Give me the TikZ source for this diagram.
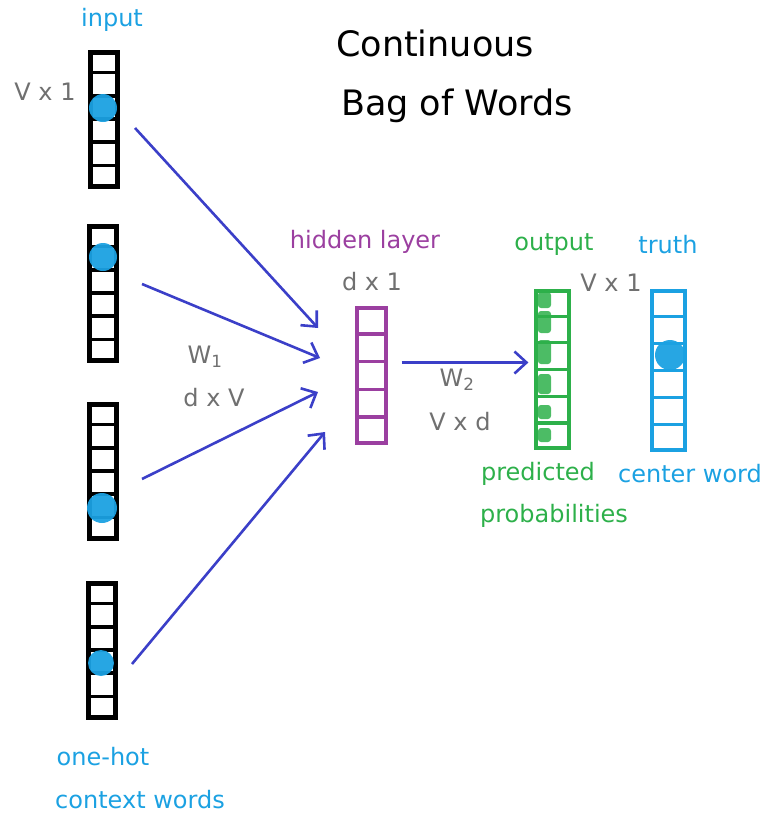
\documentclass[tikz,border=0pt]{standalone}
\usepackage{fontspec}
\setmainfont{DejaVu Sans}
\usetikzlibrary{arrows.meta,positioning,calc}
\definecolor{Ink}{HTML}{000000}
\definecolor{Sky}{HTML}{1BA1E2}
\definecolor{Plum}{HTML}{9B3FA0}
\definecolor{Leaf}{HTML}{2DB04A}
\definecolor{Slate}{HTML}{707070}
\definecolor{Flow}{HTML}{3B3FC8}

\tikzset{
  vec/.style={draw,line width=#1,minimum width=27pt,minimum height=134pt,inner sep=0pt},
  vec/.default=3.2pt,
  lbl/.style={font=\fontsize{24}{27}\selectfont},
  dims/.style={lbl,text=Slate},
  flow/.style={draw=Flow,line width=2.6pt,-{Straight Barb[length=12pt,width=22pt,line width=2.6pt]}},
  hot/.style={fill=Sky,opacity=0.95}
}

\begin{document}
\begin{tikzpicture}[x=1pt,y=-1pt]
  \useasboundingbox (0,0) rectangle (779,825);
  % context vectors
  \node[vec=5pt,draw=Ink] (in1) at (104,119) {};
  \node[vec=5pt,draw=Ink] (in2) at (103,293) {};
  \node[vec=5pt,draw=Ink] (in3) at (103,471) {};
  \node[vec=5pt,draw=Ink] (in4) at (102,650) {};
  \foreach \n in {in1,in2,in3,in4}{
    \foreach \i in {1,...,5}{
      \draw[line width=3.5pt,Ink] ($(\n.north west)!\i/6!(\n.south west)$) -- ($(\n.north east)!\i/6!(\n.south east)$);
    }
  }
  \fill[hot] (103,108) circle (14);
  \fill[hot] (103,257) circle (14);
  \fill[hot] (102,508) circle (15);
  \fill[hot] (101,663) circle (13);
  % hidden, output, truth
  \node[vec,draw=Plum,minimum width=29pt,minimum height=135pt] (hid) at (371.5,375.5) {};
  \foreach \i in {1,...,4}
    \draw[line width=3.2pt,Plum] ($(hid.north west)!\i/5!(hid.south west)$) -- ($(hid.north east)!\i/5!(hid.south east)$);
  \node[vec,draw=Leaf,minimum width=33pt,minimum height=157pt] (out) at (552.5,369.5) {};
  \node[vec,draw=Sky,minimum width=33pt,minimum height=159pt] (truth) at (668.5,370.5) {};
  \foreach \n/\c in {out/Leaf,truth/Sky}{
    \foreach \i in {1,...,5}
      \draw[line width=3.2pt,\c] ($(\n.north west)!\i/6!(\n.south west)$) -- ($(\n.north east)!\i/6!(\n.south east)$);
  }
  \foreach \y/\h in {300/16,322/22,352/24,384/20,412/14,435/14}
    \fill[Leaf,opacity=0.85,rounded corners=3pt] (538,\y-\h/2) rectangle (551,\y+\h/2);
  \fill[hot] (670,355) circle (15);
  % connectors
  \coordinate (h1) at (318,328);
  \coordinate (h2) at (320,358);
  \coordinate (h3) at (318,392);
  \coordinate (h4) at (325,432);
  \draw[flow] ($(in1.east)+(15,9)$) -- (h1);
  \draw[flow] ($(in2.east)+(23,-9)$) -- (h2);
  \draw[flow] ($(in3.east)+(23,8)$) -- (h3);
  \draw[flow] ($(in4.east)+(14,14)$) -- (h4);
  \draw[flow] ($(hid.east)+(14,-13)$) -- ($(out.west)+(-6,-7)$);
  % labels
  \node[lbl,text=Sky] (tin) at (112,20) {input};
  \node[dims] (vin) at (45,92) {V x 1};
  \node[font=\fontsize{35}{38}\selectfont] (ttl1) at (435,43) {Continuous};
  \node[font=\fontsize{35}{38}\selectfont] (ttl2) at (457,106) {Bag of Words};
  \node[lbl,text=Plum] (thid) at (365,242) {hidden layer};
  \node[dims] (dhid) at (372,282) {d x 1};
  \node[dims] (w1) at (205,357) {W\textsubscript{1}};
  \node[dims] (dw1) at (214,398) {d x V};
  \node[dims] (w2) at (457,380) {W\textsubscript{2}};
  \node[dims] (dw2) at (460,422) {V x d};
  \node[lbl,text=Leaf] (tout) at (554,245) {output};
  \node[lbl,text=Sky] (ttr) at (668,245) {truth};
  \node[dims] (vout) at (611,283) {V x 1};
  \node[lbl,text=Leaf] (p1) at (538,474) {predicted};
  \node[lbl,text=Leaf] (p2) at (554,516) {probabilities};
  \node[lbl,text=Sky] (cw) at (690,474) {center word};
  \node[lbl,text=Sky] (oh) at (103,757) {one-hot};
  \node[lbl,text=Sky] (cx) at (140,800) {context words};
\end{tikzpicture}
\end{document}
